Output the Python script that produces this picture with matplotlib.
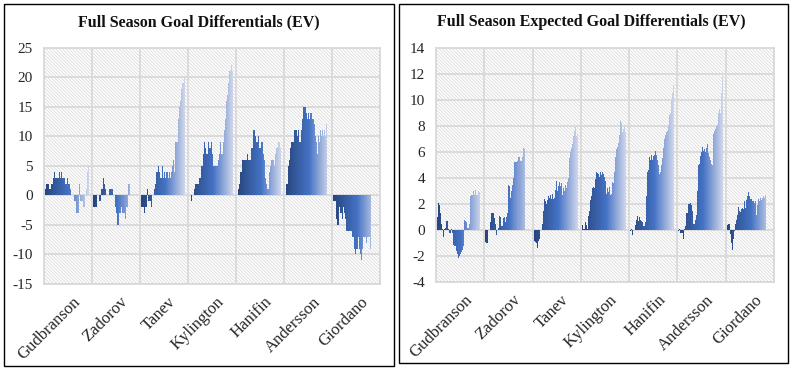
import matplotlib
matplotlib.use("Agg")
import matplotlib.pyplot as plt
import numpy as np
from matplotlib.patches import Rectangle
from matplotlib.colors import LinearSegmentedColormap

players = ["Gudbranson", "Zadorov", "Tanev", "Kylington", "Hanifin", "Andersson", "Giordano"]

# Full Season Goal Differentials (EV) - cumulative, per game slot
gd_gudbranson = [1,2,2,2,1,1,2,2,3,4,3,3,3,3,4,3,4,3,3,3,2,2,3,2,2,1,0,0,0,-1,-1,-3,-3,-3,2,-1,-1,-1,-2,-2,0,1,4,5]
gd_zadorov = [-2,-2,-2,-2,0,0,-1,-1,1,1,3,2,1,0,0,0,1,1,1,1,0,0,-2,-3,-5,-5,-3,-3,-2,-3,-3,-3,-4,-2,-2,2,2,0,0,0,0,0,0,0]
gd_tanev = [-2,-2,-2,-3,-2,-2,1,-1,-1,-1,-2,0,0,1,2,4,4,5,4,3,3,5,3,4,3,4,4,3,4,3,4,5,6,4,9,9,9,13,15,16,18,19,19,20]
gd_kylington = [0,0,-1,0,0,1,2,2,2,2,3,3,5,5,7,9,8,7,7,9,8,8,9,7,5,5,5,5,5,6,7,9,7,7,9,11,13,16,17,19,21,21,22,21]
gd_hanifin = [0,1,2,4,4,6,6,6,6,6,7,6,6,6,8,8,11,11,10,9,9,10,8,8,9,9,7,6,3,2,1,1,4,5,6,6,6,5,7,8,8,9,9,8]
gd_andersson = [0,2,2,5,6,8,9,9,9,11,11,11,10,11,9,9,11,13,15,15,15,14,13,14,13,14,14,13,13,12,10,9,7,10,9,11,10,11,10,11,10,12,0,0]
gd_giordano = [-1,-1,-1,-4,-5,-5,-2,-3,-3,-4,-2,-3,-4,-6,-6,-6,-6,-6,-6,-7,-7,-9,-10,-9,-9,-7,-9,-10,-11,-9,-7,-7,-7,-8,-7,-7,-7,-9,0,0,0,0,0,0]

# Full Season Expected Goal Differentials (EV)
xgd_gudbranson = [1.0,2.1,1.9,1.3,0.5,0.1,-0.5,0.1,0.2,0.7,0.7,0.1,-0.2,-0.2,0.1,-0.2,-1.1,-1.2,-1.2,-1.6,-1.8,-2.1,-2.0,-1.8,-1.7,-1.5,-1.2,0.8,0.7,0.6,0.2,0.2,0.5,2.6,2.7,2.7,3.0,2.7,3.1,2.7,2.7,3.0,2.9,0.0]
xgd_zadorov = [-0.9,-1.0,-1.0,0.0,0.0,0.6,1.3,1.3,1.3,0.9,0.5,-0.4,0.0,0.2,1.1,1.0,0.3,0.3,0.9,1.0,0.6,1.0,1.3,3.5,3.4,2.5,3.0,3.5,4.0,5.2,5.2,5.1,5.3,5.6,5.3,5.3,5.6,6.3,6.2,0,0,0,0,0]
xgd_tanev = [-0.8,-0.9,-1.0,-1.4,-0.8,-0.7,0.0,0.0,0.5,1.5,2.4,2.2,2.0,2.3,2.6,2.5,2.7,2.4,2.8,2.4,2.5,3.1,3.8,3.0,3.4,3.7,3.4,3.6,2.7,3.2,3.0,3.5,3.2,3.7,4.0,5.5,6.0,6.3,6.6,7.2,7.6,7.9,7.2,7.4]
xgd_kylington = [0.4,0.1,0.1,0.6,0.4,0.1,1.1,1.5,2.3,2.6,3.2,3.3,3.2,3.9,4.5,4.4,4.3,4.1,4.5,4.2,4.5,4.3,4.1,3.8,2.8,3.2,2.9,3.3,2.7,2.8,3.7,3.6,4.5,5.6,6.2,6.4,6.7,7.3,8.4,8.2,7.5,7.8,8.0,7.5]
xgd_hanifin = [-0.1,0.1,-0.4,0.0,0.0,0.4,0.8,1.1,0.7,1.0,0.8,0.7,0.6,0.3,0.3,0.6,2.6,4.5,4.6,5.6,5.4,5.8,5.4,5.7,5.8,6.1,5.8,5.4,5.0,4.3,4.5,5.0,5.5,6.3,7.0,7.3,7.5,7.6,8.0,8.8,9.0,10.0,10.5,11.1]
xgd_andersson = [-0.1,0.1,-0.2,-0.2,-0.2,-0.7,0.1,0.3,1.3,1.0,2.0,2.1,1.9,1.5,0.5,0.5,0.8,1.2,3.0,5.0,5.1,5.7,6.0,6.4,6.1,6.2,6.0,6.3,6.6,5.9,5.6,5.4,5.1,5.0,7.4,7.6,7.8,8.0,8.1,9.0,9.3,9.0,10.5,11.8]
xgd_giordano = [0.4,0.5,0.5,-0.3,-1.0,-1.5,-0.7,-0.1,0.5,0.8,1.2,1.8,1.5,1.4,1.6,1.7,1.6,2.2,1.7,2.3,2.6,2.9,2.6,2.4,2.4,2.2,2.2,2.1,2.2,1.2,1.9,2.4,2.2,2.5,2.3,2.5,2.6,2.5,2.7,0,0,0,0,0]

gd_data = [gd_gudbranson, gd_zadorov, gd_tanev, gd_kylington, gd_hanifin, gd_andersson, gd_giordano]
xgd_data = [xgd_gudbranson, xgd_zadorov, xgd_tanev, xgd_kylington, xgd_hanifin, xgd_andersson, xgd_giordano]

titles = ["Full Season Goal Differentials (EV)", "Full Season Expected Goal Differentials (EV)"]
y_ticks_left = [-15, -10, -5, 0, 5, 10, 15, 20, 25]
y_ticks_right = [-4, -2, 0, 2, 4, 6, 8, 10, 12, 14]

SERIF = ["Liberation Serif", "DejaVu Serif"]
plt.rcParams["font.family"] = SERIF
plt.rcParams["hatch.color"] = "#d4d4d4"
plt.rcParams["hatch.linewidth"] = 0.5

cmap = LinearSegmentedColormap.from_list(
    "grad", [(0.0, "#27457d"), (0.55, "#4472c4"), (1.0, "#cdd4ea")])

fig = plt.figure(figsize=(7.92, 3.69), dpi=100)
W, H = 792, 369


def fx(px):
    return px / W


def fy(py):
    return 1 - py / H


def draw_panel(rect, data, yticks, title, title_x):
    ax = fig.add_axes(rect)
    ax.add_patch(Rectangle((0, 0), 1, 1, transform=ax.transAxes, facecolor="white",
                           edgecolor="#d4d4d4", hatch="\\" * 10, lw=0, zorder=0))
    n = len(data[0])
    span = 0.917
    w = span / n
    for i, vals in enumerate(data):
        xs = [i - 0.5 + 0.021 + (j + 0.5) * w for j in range(len(vals))]
        cols = [cmap(j / (len(vals) - 1)) for j in range(len(vals))]
        ax.bar(xs, vals, width=w * 1.02, color=cols, linewidth=0, zorder=2,
               antialiased=False)
    ax.set_xlim(-0.5, 6.5)
    ax.set_ylim(yticks[0], yticks[-1])
    ax.set_yticks(yticks)
    ax.set_yticklabels([str(t) for t in yticks], fontsize=11, color="#262626")
    ax.set_xticks(range(len(players)))
    ax.set_xticklabels([])
    ax.set_xticks(np.arange(-0.5, 7.0, 1.0), minor=True)
    ax.tick_params(axis="both", which="both", length=0)
    ax.tick_params(axis="y", pad=8)
    ax.grid(True, axis="y", which="major", color="#d9d9d9", lw=1.3, zorder=1)
    ax.grid(True, axis="x", which="minor", color="#d9d9d9", lw=1.3, zorder=1)
    ax.set_axisbelow(True)
    for s in ax.spines.values():
        s.set_color("#d9d9d9")
        s.set_linewidth(1.3)
    for i, name in enumerate(players):
        ax.annotate(name, xy=(i, 0), xycoords=("data", "axes fraction"),
                    xytext=(3, -7), textcoords="offset points",
                    rotation=45, ha="right", va="top", rotation_mode="anchor",
                    fontsize=12, color="#262626")
    fig.text(title_x, fy(22), title, ha="center", va="center",
             fontsize=11.5, fontweight="bold", color="#111111")
    return ax


axL = draw_panel([fx(44), fy(284), fx(380 - 44), (284 - 47.7) / H], gd_data,
                 y_ticks_left, titles[0], fx(199))
axR = draw_panel([fx(436), fy(282.3), fx(774 - 436), (282.3 - 47.7) / H], xgd_data,
                 y_ticks_right, titles[1], fx(591))

# Chart borders
fig.patches.append(Rectangle((fx(3.5), fy(365.5)), fx(390.5), (362) / H,
                             transform=fig.transFigure, fill=False,
                             edgecolor="black", lw=1.0))
fig.patches.append(Rectangle((fx(398.5), fy(362.5)), fx(389.5), (359) / H,
                             transform=fig.transFigure, fill=False,
                             edgecolor="black", lw=1.0))

fig.savefig("out.png", dpi=100)
